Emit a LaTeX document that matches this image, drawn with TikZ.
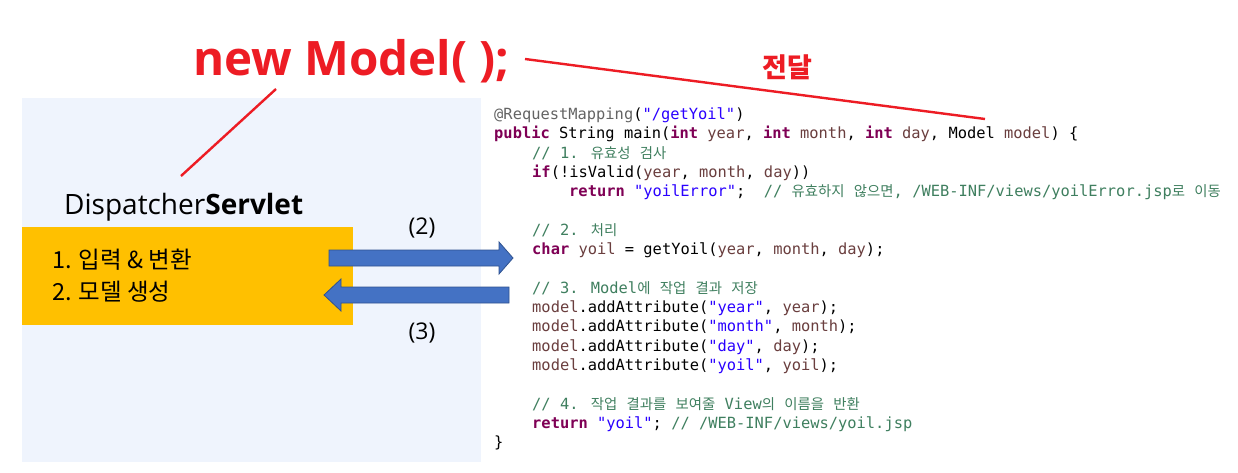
\documentclass[tikz,border=0pt]{standalone}
\usepackage{fontspec}
\setmainfont{Open Sans}
\newfontfamily\kofont{Noto Sans CJK KR}
\newfontfamily\codefont{DejaVu Sans Mono}
\definecolor{kwc}{RGB}{127,0,85}
\definecolor{varc}{RGB}{106,62,62}
\definecolor{strc}{RGB}{42,0,255}
\definecolor{cmc}{RGB}{63,127,95}
\definecolor{anc}{RGB}{100,100,100}
\definecolor{redc}{RGB}{237,28,36}
\definecolor{arrowc}{RGB}{68,114,196}
\definecolor{arrowb}{RGB}{47,82,143}
\definecolor{panelc}{RGB}{239,244,253}
\definecolor{yellowc}{RGB}{255,192,0}
\newcommand{\cKw}[1]{\textcolor{kwc}{\bfseries #1}}
\newcommand{\cVar}[1]{\textcolor{varc}{#1}}
\newcommand{\cStr}[1]{\textcolor{strc}{#1}}
\newcommand{\cCom}[1]{\textcolor{cmc}{#1}}
\newcommand{\cKo}[1]{{\kofont\fontsize{14.4}{18}\selectfont #1}}
\begin{document}
\begin{tikzpicture}[x=1pt,y=-1pt,
  code/.style={anchor=base west, inner sep=0pt, font=\codefont\fontsize{15.4}{18}\selectfont},
  redline/.style={draw=redc, line width=2.4pt},
  blockarrow/.style={fill=arrowc, draw=arrowb, line width=0.8pt},
  lbl/.style={inner sep=0pt, font=\fontsize{23}{26}\selectfont},
  kolbl/.style={anchor=base west, inner sep=0pt, font=\kofont\fontsize{23.5}{27}\selectfont}]
\useasboundingbox (0,0) rectangle (1238,472);
\fill[white] (0,0) rectangle (1238,472);
% panel and yellow box
\fill[panelc] (22,98) rectangle (481,462);
\fill[yellowc] (22,227) rectangle (353,325);
% titles
\node[anchor=base west, inner sep=0pt, text=redc, font=\bfseries\fontsize{47.5}{53}\selectfont] (nm) at (193,75) {new Model( );};
\node[inner sep=0pt, text=redc, font=\kofont\bfseries\fontsize{27}{30}\selectfont] (td) at (787,67) {전달};
\node[anchor=base west, inner sep=0pt, font=\fontsize{28}{32}\selectfont] (ds) at (64,214) {Dispatcher\textbf{Servlet}};
\node[kolbl] (s1) at (52,268) {1. 입력 \& 변환};
\node[kolbl] (s2) at (52,300) {2. 모델 생성};
\node[lbl] (l2) at (422,228) {(2)};
\node[lbl] (l3) at (422,333) {(3)};
% red connectors
\coordinate (r1a) at (276,89);
\coordinate (r1b) at (181,176);
\coordinate (r2a) at (525,59);
\coordinate (r2b) at (985,119);
\draw[redline] (r1a) -- (r1b);
\draw[redline] (r2a) -- (r2b);
% blue block arrows
\draw[blockarrow] (329,250) -- (499,250) -- (499,242) -- (513,258) -- (499,274) -- (499,266) -- (329,266) -- cycle;
\draw[blockarrow] (509,287) -- (341,287) -- (341,279) -- (324,295) -- (341,311) -- (341,303) -- (509,303) -- cycle;
% code
\node[code] (c0) at (494,119.5) {\textcolor{anc}{@RequestMapping}(\cStr{"/getYoil"})};
\node[code] (c1) at (494,138.8) {\cKw{public} String main(\cKw{int} \cVar{year}, \cKw{int} \cVar{month}, \cKw{int} \cVar{day}, Model \cVar{model}) \{};
\node[code] (c2) at (532,158.1) {\cCom{// 1. \cKo{유효성} \cKo{검사}}};
\node[code] (c3) at (532,177.4) {\cKw{if}(!isValid(\cVar{year}, \cVar{month}, \cVar{day}))};
\node[code] (c4) at (569,196.7) {\cKw{return} \cStr{"yoilError"};\ \ \cCom{// \cKo{유효하지} \cKo{않으면}, /WEB-INF/views/yoilError.jsp\cKo{로} \cKo{이동}}};
\node[code] (c6) at (532,235.3) {\cCom{// 2. \cKo{처리}}};
\node[code] (c7) at (532,254.6) {\cKw{char} \cVar{yoil} = getYoil(\cVar{year}, \cVar{month}, \cVar{day});};
\node[code] (c9) at (532,293.2) {\cCom{// 3. Model\cKo{에} \cKo{작업} \cKo{결과} \cKo{저장}}};
\node[code] (c10) at (532,312.5) {\cVar{model}.addAttribute(\cStr{"year"}, \cVar{year});};
\node[code] (c11) at (532,331.8) {\cVar{model}.addAttribute(\cStr{"month"}, \cVar{month});};
\node[code] (c12) at (532,351.1) {\cVar{model}.addAttribute(\cStr{"day"}, \cVar{day});};
\node[code] (c13) at (532,370.4) {\cVar{model}.addAttribute(\cStr{"yoil"}, \cVar{yoil});};
\node[code] (c15) at (532,409.0) {\cCom{// 4. \cKo{작업} \cKo{결과를} \cKo{보여줄} View\cKo{의} \cKo{이름을} \cKo{반환}}};
\node[code] (c16) at (532,428.3) {\cKw{return} \cStr{"yoil"}; \cCom{// /WEB-INF/views/yoil.jsp}};
\node[code] (c17) at (494,447.6) {\}};
\end{tikzpicture}
\end{document}
